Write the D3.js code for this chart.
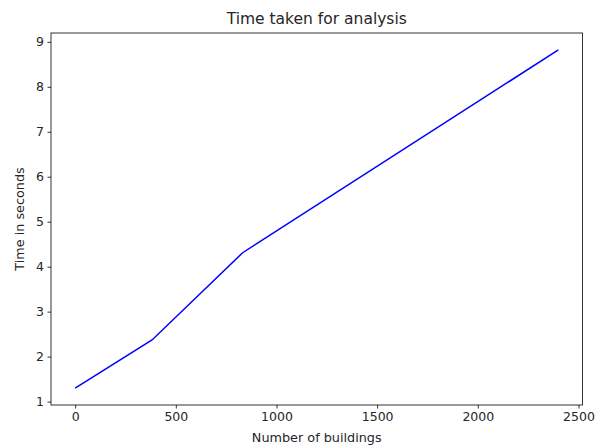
<!DOCTYPE html>
<html>
<head>
<meta charset="utf-8">
<script src="https://cdn.jsdelivr.net/npm/d3@7"></script>
<style>
  body { margin: 0; background: #fff; }
  text { font-family: "DejaVu Sans", sans-serif; fill: #262626; }
</style>
</head>
<body>
<script>
// data
const buildings = [0, 382, 832, 2400];
const seconds = [1.3, 2.37, 4.31, 8.82];
const xTicks = [0, 500, 1000, 1500, 2000, 2500];
const yTicks = [1, 2, 3, 4, 5, 6, 7, 8, 9];

const width = 599, height = 447;
const margin = { top: 33, right: 16.5, bottom: 42, left: 51 };

const svg = d3.select("body").append("svg")
  .attr("width", width)
  .attr("height", height);

// matplotlib-like 5% padding around the data
const xPad = (d3.max(buildings) - d3.min(buildings)) * 0.05;
const yPad = (d3.max(seconds) - d3.min(seconds)) * 0.05;

const x = d3.scaleLinear()
  .domain([d3.min(buildings) - xPad, d3.max(buildings) + xPad])
  .range([margin.left, width - margin.right]);

const y = d3.scaleLinear()
  .domain([d3.min(seconds) - yPad, d3.max(seconds) + yPad])
  .range([height - margin.bottom, margin.top]);

const xAxis = svg.append("g")
  .attr("transform", `translate(0,${height - margin.bottom})`)
  .call(d3.axisBottom(x).tickValues(xTicks).tickFormat(d3.format("d"))
    .tickSize(3.5).tickPadding(3.5).tickSizeOuter(0));

const yAxis = svg.append("g")
  .attr("transform", `translate(${margin.left},0)`)
  .call(d3.axisLeft(y).tickValues(yTicks).tickFormat(d3.format("d"))
    .tickSize(3.5).tickPadding(3.5).tickSizeOuter(0));

[xAxis, yAxis].forEach(g => {
  g.select(".domain").remove();
  g.selectAll(".tick line").attr("stroke", "#000").attr("stroke-width", 0.8);
  g.selectAll(".tick text").style("font-size", "12.5px").attr("fill", "#262626");
});

// frame
svg.append("rect")
  .attr("x", margin.left)
  .attr("y", margin.top)
  .attr("width", width - margin.left - margin.right)
  .attr("height", height - margin.top - margin.bottom)
  .attr("fill", "none")
  .attr("stroke", "#000")
  .attr("stroke-width", 0.8);

const line = d3.line()
  .x((d, i) => x(buildings[i]))
  .y(d => y(d));

svg.append("path")
  .datum(seconds)
  .attr("d", line)
  .attr("fill", "none")
  .attr("stroke", "#0000ff")
  .attr("stroke-width", 1.5);

svg.append("text")
  .attr("x", (margin.left + width - margin.right) / 2)
  .attr("y", 24)
  .attr("text-anchor", "middle")
  .style("font-size", "15.5px")
  .text("Time taken for analysis");

svg.append("text")
  .attr("x", (margin.left + width - margin.right) / 2)
  .attr("y", 442)
  .attr("text-anchor", "middle")
  .style("font-size", "12.8px")
  .text("Number of buildings");

svg.append("text")
  .attr("transform", `translate(24,${(margin.top + height - margin.bottom) / 2}) rotate(-90)`)
  .attr("text-anchor", "middle")
  .style("font-size", "12.8px")
  .text("Time in seconds");
</script>
</body>
</html>
